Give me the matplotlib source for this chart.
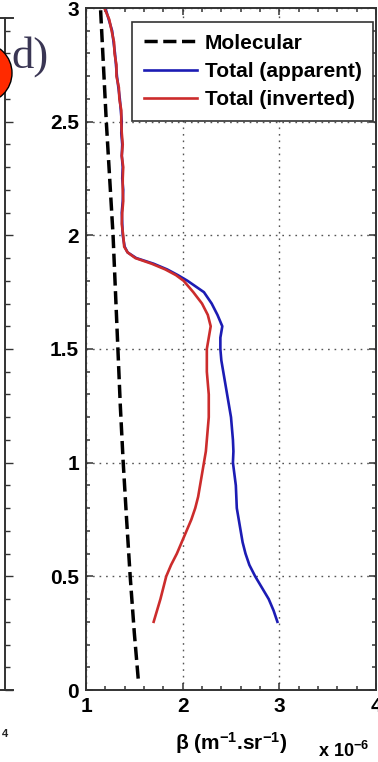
import matplotlib
matplotlib.use("Agg")
import matplotlib.pyplot as plt
from matplotlib.patches import Circle
from matplotlib.transforms import IdentityTransform
from matplotlib.ticker import MultipleLocator

plt.rcParams["font.family"] = ["Liberation Sans", "DejaVu Sans"]
plt.rcParams["mathtext.fontset"] = "custom"
plt.rcParams["mathtext.rm"] = "Liberation Sans:bold"
plt.rcParams["mathtext.bf"] = "Liberation Sans:bold"
plt.rcParams["mathtext.default"] = "bf"

# Molecular backscatter profile (x 1e-6 m^-1 sr^-1) vs altitude (km)
mol_alt = [0.05, 0.25, 0.5, 0.75, 1.0, 1.25, 1.5, 1.75, 2.0, 2.25, 2.5, 2.75, 3.0]
mol_beta = [1.54, 1.50, 1.457, 1.42, 1.385, 1.355, 1.33, 1.305, 1.28, 1.245, 1.21, 1.18, 1.15]

# Total backscatter, apparent and inverted
tot_alt = [0.30, 0.35, 0.40, 0.45, 0.50, 0.55, 0.60, 0.65, 0.70, 0.75, 0.80, 0.85,
           0.90, 0.95, 1.00, 1.05, 1.10, 1.15, 1.20, 1.25, 1.30, 1.35, 1.40, 1.45,
           1.50, 1.55, 1.60, 1.65, 1.70, 1.75, 1.80, 1.825, 1.85, 1.875, 1.90, 1.925,
           1.95, 2.00, 2.05, 2.10, 2.15, 2.20, 2.25, 2.30, 2.35, 2.40, 2.45, 2.50,
           2.55, 2.60, 2.65, 2.70, 2.75, 2.80, 2.85, 2.90, 2.95, 3.00]
apparent = [2.98, 2.94, 2.89, 2.82, 2.75, 2.69, 2.65, 2.62, 2.60, 2.58, 2.56, 2.555,
            2.55, 2.535, 2.52, 2.525, 2.52, 2.51, 2.50, 2.48, 2.46, 2.44, 2.42, 2.40,
            2.39, 2.39, 2.41, 2.36, 2.30, 2.22, 2.05, 1.95, 1.84, 1.70, 1.52, 1.43,
            1.40, 1.38, 1.375, 1.37, 1.38, 1.385, 1.375, 1.38, 1.37, 1.375, 1.365, 1.37,
            1.36, 1.35, 1.335, 1.32, 1.31, 1.30, 1.285, 1.27, 1.235, 1.20]
inverted = [1.70, 1.735, 1.77, 1.80, 1.83, 1.88, 1.94, 1.99, 2.04, 2.09, 2.13, 2.16,
            2.18, 2.20, 2.22, 2.24, 2.25, 2.26, 2.27, 2.27, 2.27, 2.26, 2.25, 2.25,
            2.25, 2.27, 2.29, 2.26, 2.20, 2.11, 2.01, 1.93, 1.82, 1.68, 1.51, 1.43,
            1.395, 1.385, 1.37, 1.375, 1.385, 1.38, 1.38, 1.385, 1.37, 1.38, 1.37, 1.365,
            1.365, 1.345, 1.34, 1.315, 1.315, 1.295, 1.29, 1.265, 1.24, 1.19]

x_ticks = [1, 2, 3, 4]
y_ticks = [0, 0.5, 1, 1.5, 2, 2.5, 3]
y_ticklabels = ["0", "0.5", "1", "1.5", "2", "2.5", "3"]

W, H = 378, 762


def px_rect(x0, y0, x1, y1):
    return [x0 / W, 1 - y1 / H, (x1 - x0) / W, (y1 - y0) / H]


fig = plt.figure(figsize=(W / 100, H / 100), dpi=100)
fig.patch.set_facecolor("white")

spine_col = "#333333"
label_font = dict(size=15, weight="bold")

# ---- neighbouring panel, mostly outside the frame ----
ax0 = fig.add_axes(px_rect(-200, 18, 13, 690))
ax0.set_xlim(0, 1)
ax0.set_ylim(0, (690 - 18) / ((690 - 8) / 3.0))
ax0.spines["left"].set_visible(False)
ax0.spines["right"].set_position(("axes", 205 / 213))
for s in ("right", "top", "bottom"):
    ax0.spines[s].set_color(spine_col)
    ax0.spines[s].set_linewidth(1.4)
ax0.set_xticks([])
ax0.yaxis.tick_right()
ax0.yaxis.set_major_locator(MultipleLocator(0.5))
ax0.yaxis.set_minor_locator(MultipleLocator(0.1))
ax0.tick_params(axis="y", which="both", direction="out", labelright=False,
                color=spine_col, width=1.0)
ax0.tick_params(axis="y", which="major", length=6)
ax0.tick_params(axis="y", which="minor", length=3.5)
fig.text(2 / W, 1 - 737 / H, "4", fontsize=8, weight="bold", color="#222222")

# ---- main panel ----
ax = fig.add_axes(px_rect(86, 8, 376, 690))
ax.plot(mol_beta, mol_alt, color="black", linewidth=2.5, dashes=(3.8, 1.6),
        label="Molecular")
ax.plot(apparent, tot_alt, color="#1c1cb4", linewidth=1.9, label="Total (apparent)")
ax.plot(inverted, tot_alt, color="#cc2c2c", linewidth=1.9, label="Total (inverted)")

ax.set_xlim(1, 4)
ax.set_ylim(0, 3)
ax.set_xticks(x_ticks)
ax.set_xticklabels([str(v) for v in x_ticks], **label_font)
ax.set_yticks(y_ticks)
ax.set_yticklabels(y_ticklabels, **label_font)
ax.xaxis.set_minor_locator(MultipleLocator(0.2))
ax.yaxis.set_minor_locator(MultipleLocator(0.1))
ax.tick_params(which="both", direction="in", top=True, right=True,
               color=spine_col, width=1.1)
ax.tick_params(which="major", length=5, pad=5)
ax.tick_params(which="minor", length=3)
for s in ax.spines.values():
    s.set_color(spine_col)
    s.set_linewidth(1.4)
ax.grid(True, which="major", color="#555555", linestyle=(0, (1.2, 3.5)), linewidth=1.0)

ax.set_xlabel(r"β (m$^{-1}$.sr$^{-1}$)", fontsize=15, weight="bold", labelpad=10)
fig.text(318 / W, 1 - 757 / H, r"x 10$^{-6}$", fontsize=13, weight="bold")

leg = ax.legend(loc="upper left", bbox_to_anchor=(0.159, 0.979), borderaxespad=0,
                fancybox=False, framealpha=1, edgecolor=spine_col,
                handlelength=2.55, handletextpad=0.4, labelspacing=0.44,
                borderpad=0.55, prop=dict(size=15, weight="bold"))
leg.get_frame().set_linewidth(1.2)

# ---- panel marker ----
fig.add_artist(Circle((-18, H - 73), 30, transform=IdentityTransform(),
                      facecolor="#ff2a00", edgecolor="black", linewidth=1.0))
fig.text(11 / W, 1 - 68 / H, "d)", family="Liberation Serif", fontsize=32,
         color="#3a3654", va="baseline")

fig.savefig("out.png", dpi=100, facecolor="white")
